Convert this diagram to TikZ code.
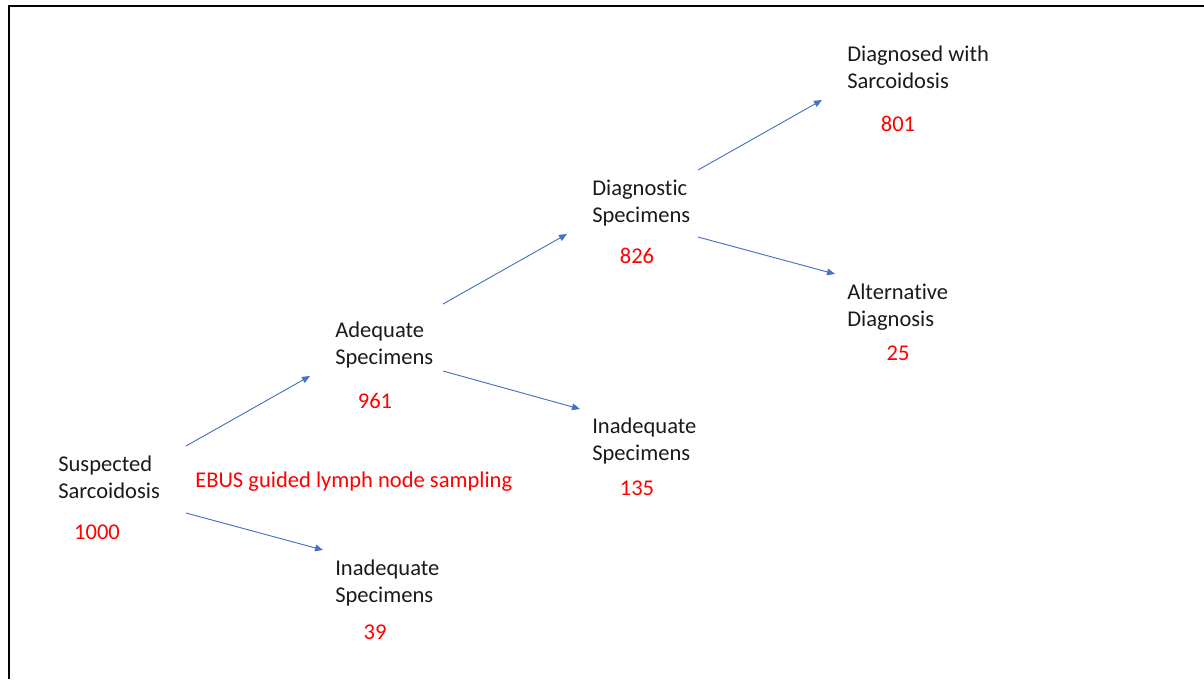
\documentclass[tikz,border=0pt]{standalone}
\usepackage{fontspec}
\setmainfont[Ligatures=NoCommon]{Carlito}
\usetikzlibrary{arrows.meta}
\definecolor{arrowblue}{HTML}{4472C4}
\definecolor{numred}{HTML}{FF0000}
\definecolor{txtdark}{HTML}{1A1A1A}
\begin{document}
\begin{tikzpicture}[x=0.75pt,y=-0.75pt,
  lbl/.style={anchor=base west,align=left,inner sep=0pt,text=txtdark,font=\fontsize{16.9}{20.25}\selectfont},
  num/.style={anchor=base,inner sep=0pt,text=numred,font=\fontsize{16.9}{20.25}\selectfont},
  arr/.style={draw=arrowblue,line width=0.7pt,-{Triangle[length=6pt,width=5pt]}}]
\useasboundingbox (0,0) rectangle (1204,679);
\draw[line width=1.6pt] (9,679) -- (9,6) -- (1204,6);
% labels (anchor at baseline of second line)
\node[lbl] (susp) at (58,498) {Suspected\\Sarcoidosis};
\node[num] (n1000) at (97,539) {1000};
\node[lbl] (adeq) at (335,364) {Adequate\\Specimens};
\node[num] (n961) at (375,408) {961};
\node[lbl] (inad1) at (335,602) {Inadequate\\Specimens};
\node[num] (n39) at (375,639) {39};
\node[lbl] (inad2) at (592,460) {Inadequate\\Specimens};
\node[num] (n135) at (637,495) {135};
\node[lbl] (diag) at (592,222) {Diagnostic\\Specimens};
\node[num] (n826) at (637,263) {826};
\node[lbl] (dsar) at (847,88) {Diagnosed with\\Sarcoidosis};
\node[num] (n801) at (898,131) {801};
\node[lbl] (alt) at (847,326) {Alternative\\Diagnosis};
\node[num] (n25) at (898,360) {25};
\node[anchor=base west,inner sep=0pt,text=numred,font=\fontsize{16.9}{20.25}\selectfont] (ebus) at (195,487) {EBUS guided lymph node sampling};
% arrow endpoints
\coordinate (a1s) at (186,446); \coordinate (a1e) at (310,376);
\coordinate (a2s) at (186,513); \coordinate (a2e) at (323,550);
\coordinate (a3s) at (443,304); \coordinate (a3e) at (567,234);
\coordinate (a4s) at (443,371); \coordinate (a4e) at (580,409);
\coordinate (a5s) at (698,170); \coordinate (a5e) at (822,100);
\coordinate (a6s) at (698,237); \coordinate (a6e) at (835,274);
\draw[arr] (a1s) -- (a1e);
\draw[arr] (a2s) -- (a2e);
\draw[arr] (a3s) -- (a3e);
\draw[arr] (a4s) -- (a4e);
\draw[arr] (a5s) -- (a5e);
\draw[arr] (a6s) -- (a6e);
\end{tikzpicture}
\end{document}
